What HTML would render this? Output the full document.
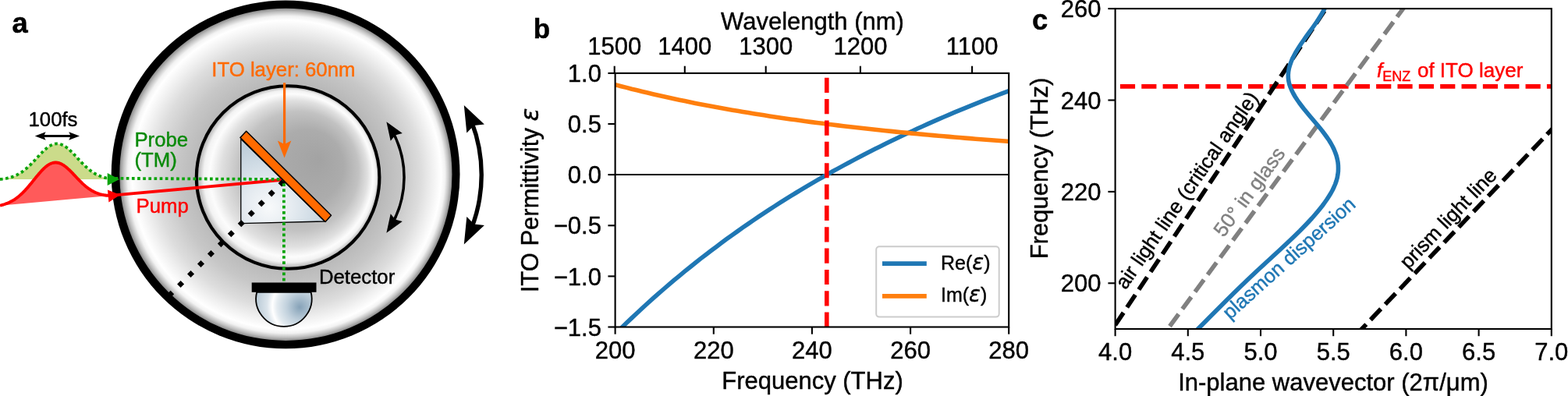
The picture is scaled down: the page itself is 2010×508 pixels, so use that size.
<!DOCTYPE html>
<html><head><meta charset="utf-8"><title>Figure</title>
<style>
html,body{margin:0;padding:0;background:#fff;}
body{width:2010px;height:508px;overflow:hidden;}
svg{display:block;font-family:'Liberation Sans', 'DejaVu Sans', sans-serif;}
</style></head><body>
<svg width="2010" height="508" viewBox="0 0 2010 508">
<rect width="2010" height="508" fill="#fff"/>
<g id="panel-a">
<defs>
<radialGradient id="gout" gradientUnits="userSpaceOnUse" cx="366.4" cy="223.85" r="213.1" fx="380" fy="228">
<stop offset="0" stop-color="#b0b0b0"/><stop offset="0.55" stop-color="#b8b8b8"/><stop offset="0.68" stop-color="#c7c7c7"/><stop offset="0.8" stop-color="#dddddd"/><stop offset="0.88" stop-color="#f2f2f2"/><stop offset="0.93" stop-color="#ffffff"/><stop offset="0.955" stop-color="#f2f2f2"/><stop offset="0.98" stop-color="#c0c0c0"/><stop offset="1" stop-color="#8c8c8c"/>
</radialGradient>
<radialGradient id="gin" gradientUnits="userSpaceOnUse" cx="369.1" cy="227.5" r="117.3" fx="410" fy="204">
<stop offset="0" stop-color="#a3a3a3"/><stop offset="0.4" stop-color="#acacac"/><stop offset="0.65" stop-color="#c2c2c2"/><stop offset="0.8" stop-color="#e0e0e0"/><stop offset="0.89" stop-color="#fcfcfc"/><stop offset="0.94" stop-color="#f2f2f2"/><stop offset="0.98" stop-color="#c0c0c0"/><stop offset="1" stop-color="#909090"/>
</radialGradient>
<radialGradient id="gpr" gradientUnits="userSpaceOnUse" cx="345" cy="266" r="82"><stop offset="0" stop-color="#f8fafb"/><stop offset="0.35" stop-color="#e6ecf1"/><stop offset="0.7" stop-color="#d0dce5"/><stop offset="1" stop-color="#bfceda"/></radialGradient>
<radialGradient id="gdet" gradientUnits="userSpaceOnUse" cx="390" cy="392" r="64" fx="384" fy="394"><stop offset="0" stop-color="#86a2b8"/><stop offset="0.28" stop-color="#c0d0dc"/><stop offset="0.5" stop-color="#e4ebf0"/><stop offset="0.6" stop-color="#ffffff"/><stop offset="0.72" stop-color="#dbe4eb"/><stop offset="1" stop-color="#b4c6d3"/></radialGradient>
</defs>
<circle cx="366.1" cy="223.8" r="223.4" fill="#000"/>
<circle cx="366.4" cy="223.85" r="213.1" fill="url(#gout)"/>
<circle cx="369.1" cy="227.5" r="117.3" fill="url(#gin)" stroke="#000" stroke-width="4.1"/>
<path d="M308.8,178.4 L308.8,286.7 L416.2,284 Z" fill="url(#gpr)" stroke="#000" stroke-width="1.3" stroke-linejoin="round"/>
<path d="M0,230 L0.0,230.0 L1.5,229.8 L3.0,229.7 L4.5,229.5 L6.0,229.2 L7.5,229.0 L9.0,228.7 L10.5,228.3 L12.0,228.0 L13.5,227.6 L15.0,227.1 L16.5,226.6 L18.0,226.0 L19.5,225.4 L21.0,224.7 L22.5,223.9 L24.0,223.1 L25.5,222.2 L27.0,221.3 L28.5,220.3 L30.0,219.2 L31.5,218.0 L33.0,216.8 L34.5,215.5 L36.0,214.2 L37.5,212.8 L39.0,211.3 L40.5,209.8 L42.0,208.3 L43.5,206.7 L45.0,205.1 L46.5,203.4 L48.0,201.8 L49.5,200.2 L51.0,198.6 L52.5,197.0 L54.0,195.5 L55.5,194.0 L57.0,192.6 L58.5,191.3 L60.0,190.0 L61.5,188.9 L63.0,187.8 L64.5,186.9 L66.0,186.1 L67.5,185.5 L69.0,185.0 L70.5,184.6 L72.0,184.4 L73.5,184.4 L75.0,184.5 L76.5,184.8 L78.0,185.2 L79.5,185.7 L81.0,186.4 L82.5,187.3 L84.0,188.2 L85.5,189.3 L87.0,190.5 L88.5,191.8 L90.0,193.2 L91.5,194.6 L93.0,196.1 L94.5,197.7 L96.0,199.2 L97.5,200.8 L99.0,202.5 L100.5,204.1 L102.0,205.7 L103.5,207.3 L105.0,208.9 L106.5,210.4 L108.0,211.9 L109.5,213.3 L111.0,214.7 L112.5,216.1 L114.0,217.3 L115.5,218.5 L117.0,219.6 L118.5,220.7 L120.0,221.7 L121.5,222.6 L123.0,223.5 L124.5,224.2 L126.0,225.0 L127.5,225.6 L129.0,226.2 L130.5,226.8 L132.0,227.3 L133.5,227.7 L135.0,228.1 L136.5,228.5 L138.0,228.8 L139.5,229.1 L141.0,229.3 L141,230 Z" fill="#cbdb8a"/>
<path d="M0,263.7 L0.0,263.7 L1.5,263.3 L3.0,262.9 L4.5,262.5 L6.0,262.0 L7.5,261.4 L9.0,260.9 L10.5,260.2 L12.0,259.6 L13.5,258.8 L15.0,258.0 L16.5,257.2 L18.0,256.3 L19.5,255.3 L21.0,254.2 L22.5,253.1 L24.0,251.9 L25.5,250.6 L27.0,249.3 L28.5,247.9 L30.0,246.4 L31.5,244.9 L33.0,243.2 L34.5,241.6 L36.0,239.9 L37.5,238.1 L39.0,236.3 L40.5,234.5 L42.0,232.6 L43.5,230.8 L45.0,228.9 L46.5,227.0 L48.0,225.2 L49.5,223.4 L51.0,221.7 L52.5,220.0 L54.0,218.4 L55.5,216.9 L57.0,215.4 L58.5,214.1 L60.0,212.9 L61.5,211.8 L63.0,210.9 L64.5,210.1 L66.0,209.5 L67.5,209.0 L69.0,208.7 L70.5,208.5 L72.0,208.5 L73.5,208.7 L75.0,209.0 L76.5,209.4 L78.0,210.1 L79.5,210.8 L81.0,211.7 L82.5,212.7 L84.0,213.8 L85.5,215.0 L87.0,216.4 L88.5,217.7 L90.0,219.2 L91.5,220.7 L93.0,222.2 L94.5,223.8 L96.0,225.4 L97.5,227.0 L99.0,228.6 L100.5,230.1 L102.0,231.7 L103.5,233.2 L105.0,234.7 L106.5,236.1 L108.0,237.4 L109.5,238.7 L111.0,239.9 L112.5,241.1 L114.0,242.2 L115.5,243.2 L117.0,244.2 L118.5,245.0 L120.0,245.8 L121.5,246.6 L123.0,247.2 L124.5,247.8 L126.0,248.4 L127.5,248.9 L129.0,249.3 L130.5,249.7 L132.0,250.0 L133.5,250.3 L135.0,250.5 L136.5,250.7 L138.0,250.8 L139.5,250.9 L141.0,250.9 L141,250.9 Z" fill="#ff5a5a"/>
<path d="M0.0,263.7 L1.5,263.3 L3.0,262.9 L4.5,262.5 L6.0,262.0 L7.5,261.4 L9.0,260.9 L10.5,260.2 L12.0,259.6 L13.5,258.8 L15.0,258.0 L16.5,257.2 L18.0,256.3 L19.5,255.3 L21.0,254.2 L22.5,253.1 L24.0,251.9 L25.5,250.6 L27.0,249.3 L28.5,247.9 L30.0,246.4 L31.5,244.9 L33.0,243.2 L34.5,241.6 L36.0,239.9 L37.5,238.1 L39.0,236.3 L40.5,234.5 L42.0,232.6 L43.5,230.8 L45.0,228.9 L46.5,227.0 L48.0,225.2 L49.5,223.4 L51.0,221.7 L52.5,220.0 L54.0,218.4 L55.5,216.9 L57.0,215.4 L58.5,214.1 L60.0,212.9 L61.5,211.8 L63.0,210.9 L64.5,210.1 L66.0,209.5 L67.5,209.0 L69.0,208.7 L70.5,208.5 L72.0,208.5 L73.5,208.7 L75.0,209.0 L76.5,209.4 L78.0,210.1 L79.5,210.8 L81.0,211.7 L82.5,212.7 L84.0,213.8 L85.5,215.0 L87.0,216.4 L88.5,217.7 L90.0,219.2 L91.5,220.7 L93.0,222.2 L94.5,223.8 L96.0,225.4 L97.5,227.0 L99.0,228.6 L100.5,230.1 L102.0,231.7 L103.5,233.2 L105.0,234.7 L106.5,236.1 L108.0,237.4 L109.5,238.7 L111.0,239.9 L112.5,241.1 L114.0,242.2 L115.5,243.2 L117.0,244.2 L118.5,245.0 L120.0,245.8 L121.5,246.6 L123.0,247.2 L124.5,247.8 L126.0,248.4 L127.5,248.9 L129.0,249.3 L130.5,249.7 L132.0,250.0 L133.5,250.3 L135.0,250.5 L136.5,250.7 L138.0,250.8 L139.5,250.9 L141.0,250.9 L152,249.9 L361.5,230.8" fill="none" stroke="#f00" stroke-width="3.9" stroke-linejoin="round"/>
<path d="M154.0,250.0 L139.4,259.4 L138.7,251.4 L137.9,243.4 Z" fill="#f00"/>
<line x1="363.36" y1="232.64" x2="213" y2="383" stroke="#000" stroke-width="6.4" stroke-dasharray="6.4 11.914"/>
<path d="M0.0,230.0 L1.5,229.8 L3.0,229.7 L4.5,229.5 L6.0,229.2 L7.5,229.0 L9.0,228.7 L10.5,228.3 L12.0,228.0 L13.5,227.6 L15.0,227.1 L16.5,226.6 L18.0,226.0 L19.5,225.4 L21.0,224.7 L22.5,223.9 L24.0,223.1 L25.5,222.2 L27.0,221.3 L28.5,220.3 L30.0,219.2 L31.5,218.0 L33.0,216.8 L34.5,215.5 L36.0,214.2 L37.5,212.8 L39.0,211.3 L40.5,209.8 L42.0,208.3 L43.5,206.7 L45.0,205.1 L46.5,203.4 L48.0,201.8 L49.5,200.2 L51.0,198.6 L52.5,197.0 L54.0,195.5 L55.5,194.0 L57.0,192.6 L58.5,191.3 L60.0,190.0 L61.5,188.9 L63.0,187.8 L64.5,186.9 L66.0,186.1 L67.5,185.5 L69.0,185.0 L70.5,184.6 L72.0,184.4 L73.5,184.4 L75.0,184.5 L76.5,184.8 L78.0,185.2 L79.5,185.7 L81.0,186.4 L82.5,187.3 L84.0,188.2 L85.5,189.3 L87.0,190.5 L88.5,191.8 L90.0,193.2 L91.5,194.6 L93.0,196.1 L94.5,197.7 L96.0,199.2 L97.5,200.8 L99.0,202.5 L100.5,204.1 L102.0,205.7 L103.5,207.3 L105.0,208.9 L106.5,210.4 L108.0,211.9 L109.5,213.3 L111.0,214.7 L112.5,216.1 L114.0,217.3 L115.5,218.5 L117.0,219.6 L118.5,220.7 L120.0,221.7 L121.5,222.6 L123.0,223.5 L124.5,224.2 L126.0,225.0 L127.5,225.6 L129.0,226.2 L130.5,226.8 L132.0,227.3 L133.5,227.7 L135.0,228.1 L136.5,228.5 L138.0,228.8 L363.9,230 L363.9,362.5" fill="none" stroke="#0ca40c" stroke-width="3.8" stroke-dasharray="3.7 3.45" stroke-linejoin="round"/>
<path d="M153.0,230.0 L137.7,238.0 L137.7,230.0 L137.7,222.0 Z" fill="#0ca40c"/>
<path d="M308,176.5 L315.7,168.2 L424.5,276.2 L417.1,284.5 Z" fill="#ff6a00" stroke="#000" stroke-width="1.5" stroke-linejoin="round"/>
<line x1="364.6" y1="106.2" x2="364.6" y2="190" stroke="#ff6a00" stroke-width="3.2"/>
<path d="M364.6,202.4 L355.9,180.6 L364.6,185.1 L373.3,180.6 Z" fill="#ff6a00"/>
<path d="M329.2,374.8 A35.7,35.7 0 1 0 398.6,374.8 Z" fill="url(#gdet)" stroke="#000" stroke-width="1.8"/>
<rect x="322.7" y="362.5" width="82.8" height="12.3" fill="#000"/>
<path d="M504.0,170.2 A123.8,123.8 0 0 1 504.0,284.8" fill="none" stroke="#000" stroke-width="3.5"/><path d="M495.4,156.2 L515.8,171.0 L506.6,173.4 L500.7,180.8 Z" fill="#000"/><path d="M495.4,298.8 L500.7,274.2 L506.6,281.6 L515.8,284.0 Z" fill="#000"/>
<path d="M604.6,156.3 A189.0,189.0 0 0 1 604.6,292.2" fill="none" stroke="#000" stroke-width="5.4"/><path d="M594.8,135.0 L620.9,159.5 L607.6,161.0 L598.3,170.6 Z" fill="#000"/><path d="M594.8,313.5 L598.3,277.9 L607.6,287.5 L620.9,289.0 Z" fill="#000"/>
<line x1="52" y1="174.5" x2="95" y2="174.5" stroke="#000" stroke-width="2.9"/>
<path d="M44.8,174.5 L58.6,169.3 L56.1,174.5 L58.6,179.7 Z" fill="#000"/>
<path d="M102.0,174.5 L88.2,179.7 L90.7,174.5 L88.2,169.3 Z" fill="#000"/>
<text x="36.5" y="161.5" font-size="25.75" stroke="#000" stroke-width="0.42" stroke-linejoin="round">100fs</text>
<text x="172.4" y="188.2" font-size="25.75" fill="#0a8a0a" stroke="#0a8a0a" stroke-width="0.42" stroke-linejoin="round">Probe</text>
<text x="172.4" y="214.3" font-size="25.75" fill="#0a8a0a" stroke="#0a8a0a" stroke-width="0.42" stroke-linejoin="round">(TM)</text>
<text x="174.6" y="273.4" font-size="25.75" fill="#f00" stroke="#f00" stroke-width="0.42" stroke-linejoin="round">Pump</text>
<text x="271.3" y="97.8" font-size="25.75" fill="#ff6a00" stroke="#ff6a00" stroke-width="0.42" stroke-linejoin="round">ITO layer: 60nm</text>
<text x="408.9" y="364.4" font-size="25.75" stroke="#000" stroke-width="0.42" stroke-linejoin="round">Detector</text>
<text x="15.6" y="42.4" font-size="36.3" font-weight="bold" stroke="#000" stroke-width="0.5" stroke-linejoin="round">a</text>
</g>
<g id="panel-b">
<clipPath id="clipb"><rect x="788.6" y="93.9" width="504.6" height="325.6"/></clipPath>
<g clip-path="url(#clipb)" fill="none">
<line x1="788.6" x2="1293.2" y1="224.1" y2="224.1" stroke="#000" stroke-width="2"/>
<polyline points="776.0,441.3 782.8,434.4 789.5,427.6 796.3,420.9 803.1,414.3 809.9,407.9 816.7,401.5 823.4,395.2 830.2,389.0 837.0,382.9 843.8,376.9 850.6,371.0 857.4,365.2 864.1,359.4 870.9,353.8 877.7,348.2 884.5,342.7 891.3,337.3 898.0,331.9 904.8,326.7 911.6,321.5 918.4,316.4 925.2,311.3 931.9,306.3 938.7,301.4 945.5,296.6 952.3,291.8 959.1,287.1 965.8,282.5 972.6,277.9 979.4,273.4 986.2,268.9 993.0,264.5 999.7,260.2 1006.5,255.9 1013.3,251.7 1020.1,247.5 1026.9,243.4 1033.6,239.3 1040.4,235.3 1047.2,231.4 1054.0,227.5 1060.8,223.6 1067.5,219.8 1074.3,216.1 1081.1,212.4 1087.9,208.7 1094.7,205.1 1101.5,201.5 1108.2,198.0 1115.0,194.5 1121.8,191.1 1128.6,187.7 1135.4,184.3 1142.1,181.0 1148.9,177.7 1155.7,174.5 1162.5,171.3 1169.3,168.2 1176.0,165.0 1182.8,162.0 1189.6,158.9 1196.4,155.9 1203.2,152.9 1209.9,150.0 1216.7,147.1 1223.5,144.2 1230.3,141.4 1237.1,138.6 1243.8,135.8 1250.6,133.1 1257.4,130.4 1264.2,127.7 1271.0,125.1 1277.7,122.5 1284.5,119.9 1291.3,117.3 1298.1,114.8 1304.9,112.3 1311.6,109.8 1318.4,107.4" stroke="#1f77b4" stroke-width="5.6" stroke-linejoin="round"/>
<polyline points="776.0,105.2 782.8,107.0 789.5,108.9 796.3,110.7 803.1,112.4 809.9,114.2 816.7,115.8 823.4,117.5 830.2,119.1 837.0,120.7 843.8,122.3 850.6,123.8 857.4,125.3 864.1,126.8 870.9,128.2 877.7,129.6 884.5,131.0 891.3,132.4 898.0,133.7 904.8,135.0 911.6,136.3 918.4,137.5 925.2,138.8 931.9,140.0 938.7,141.2 945.5,142.3 952.3,143.5 959.1,144.6 965.8,145.7 972.6,146.8 979.4,147.8 986.2,148.9 993.0,149.9 999.7,150.9 1006.5,151.9 1013.3,152.9 1020.1,153.8 1026.9,154.8 1033.6,155.7 1040.4,156.6 1047.2,157.5 1054.0,158.3 1060.8,159.2 1067.5,160.0 1074.3,160.9 1081.1,161.7 1087.9,162.5 1094.7,163.3 1101.5,164.0 1108.2,164.8 1115.0,165.5 1121.8,166.3 1128.6,167.0 1135.4,167.7 1142.1,168.4 1148.9,169.1 1155.7,169.8 1162.5,170.4 1169.3,171.1 1176.0,171.7 1182.8,172.4 1189.6,173.0 1196.4,173.6 1203.2,174.2 1209.9,174.8 1216.7,175.4 1223.5,176.0 1230.3,176.5 1237.1,177.1 1243.8,177.6 1250.6,178.2 1257.4,178.7 1264.2,179.2 1271.0,179.8 1277.7,180.3 1284.5,180.8 1291.3,181.3 1298.1,181.7 1304.9,182.2 1311.6,182.7 1318.4,183.2" stroke="#ff7f0e" stroke-width="5.6" stroke-linejoin="round"/>
<line x1="1059.8" x2="1059.8" y1="419.8" y2="93.9" stroke="#f00" stroke-width="5.6" stroke-dasharray="19.2 8.15"/>
</g>
<rect x="1123.2" y="316.3" width="157.5" height="90.3" rx="4" ry="4" fill="#fff" fill-opacity="0.8" stroke="#ccc" stroke-width="2"/>
<line x1="1131" x2="1187.8" y1="338.1" y2="338.1" stroke="#1f77b4" stroke-width="5.6"/>
<line x1="1131" x2="1187.8" y1="379.9" y2="379.9" stroke="#ff7f0e" stroke-width="5.6"/>
<text x="1206" y="345.6" font-size="25" stroke="#000" stroke-width="0.42" stroke-linejoin="round">Re(<tspan font-style="italic" font-family="DejaVu Sans, sans-serif" font-size="27.5">ε</tspan>)</text>
<text x="1206" y="387.4" font-size="25" stroke="#000" stroke-width="0.42" stroke-linejoin="round">Im(<tspan font-style="italic" font-family="DejaVu Sans, sans-serif" font-size="27.5">ε</tspan>)</text>
<rect x="788.6" y="93.9" width="504.6" height="325.6" fill="none" stroke="#000" stroke-width="2.1"/>
<line x1="788.6" x2="788.6" y1="419.5" y2="428.7" stroke="#000" stroke-width="2.1"/>
<text x="788.6" y="460.2" font-size="31" text-anchor="middle" stroke="#000" stroke-width="0.42" stroke-linejoin="round">200</text>
<line x1="914.8" x2="914.8" y1="419.5" y2="428.7" stroke="#000" stroke-width="2.1"/>
<text x="914.8" y="460.2" font-size="31" text-anchor="middle" stroke="#000" stroke-width="0.42" stroke-linejoin="round">220</text>
<line x1="1040.9" x2="1040.9" y1="419.5" y2="428.7" stroke="#000" stroke-width="2.1"/>
<text x="1040.9" y="460.2" font-size="31" text-anchor="middle" stroke="#000" stroke-width="0.42" stroke-linejoin="round">240</text>
<line x1="1167.1" x2="1167.1" y1="419.5" y2="428.7" stroke="#000" stroke-width="2.1"/>
<text x="1167.1" y="460.2" font-size="31" text-anchor="middle" stroke="#000" stroke-width="0.42" stroke-linejoin="round">260</text>
<line x1="1293.2" x2="1293.2" y1="419.5" y2="428.7" stroke="#000" stroke-width="2.1"/>
<text x="1293.2" y="460.2" font-size="31" text-anchor="middle" stroke="#000" stroke-width="0.42" stroke-linejoin="round">280</text>
<line x1="787.7" x2="787.7" y1="93.9" y2="84.7" stroke="#000" stroke-width="2.1"/>
<text x="787.7" y="69.6" font-size="31" text-anchor="middle" stroke="#000" stroke-width="0.42" stroke-linejoin="round">1500</text>
<line x1="877.8" x2="877.8" y1="93.9" y2="84.7" stroke="#000" stroke-width="2.1"/>
<text x="877.8" y="69.6" font-size="31" text-anchor="middle" stroke="#000" stroke-width="0.42" stroke-linejoin="round">1400</text>
<line x1="981.7" x2="981.7" y1="93.9" y2="84.7" stroke="#000" stroke-width="2.1"/>
<text x="981.7" y="69.6" font-size="31" text-anchor="middle" stroke="#000" stroke-width="0.42" stroke-linejoin="round">1300</text>
<line x1="1102.9" x2="1102.9" y1="93.9" y2="84.7" stroke="#000" stroke-width="2.1"/>
<text x="1102.9" y="69.6" font-size="31" text-anchor="middle" stroke="#000" stroke-width="0.42" stroke-linejoin="round">1200</text>
<line x1="1246.1" x2="1246.1" y1="93.9" y2="84.7" stroke="#000" stroke-width="2.1"/>
<text x="1246.1" y="69.6" font-size="31" text-anchor="middle" stroke="#000" stroke-width="0.42" stroke-linejoin="round">1100</text>
<line x1="788.6" x2="779.4" y1="93.9" y2="93.9" stroke="#000" stroke-width="2.1"/>
<text x="770.9" y="105.0" font-size="31" text-anchor="end" stroke="#000" stroke-width="0.42" stroke-linejoin="round">1.0</text>
<line x1="788.6" x2="779.4" y1="159.0" y2="159.0" stroke="#000" stroke-width="2.1"/>
<text x="770.9" y="170.1" font-size="31" text-anchor="end" stroke="#000" stroke-width="0.42" stroke-linejoin="round">0.5</text>
<line x1="788.6" x2="779.4" y1="224.1" y2="224.1" stroke="#000" stroke-width="2.1"/>
<text x="770.9" y="235.2" font-size="31" text-anchor="end" stroke="#000" stroke-width="0.42" stroke-linejoin="round">0.0</text>
<line x1="788.6" x2="779.4" y1="289.3" y2="289.3" stroke="#000" stroke-width="2.1"/>
<text x="770.9" y="300.4" font-size="31" text-anchor="end" stroke="#000" stroke-width="0.42" stroke-linejoin="round">−0.5</text>
<line x1="788.6" x2="779.4" y1="354.4" y2="354.4" stroke="#000" stroke-width="2.1"/>
<text x="770.9" y="365.5" font-size="31" text-anchor="end" stroke="#000" stroke-width="0.42" stroke-linejoin="round">−1.0</text>
<line x1="788.6" x2="779.4" y1="419.5" y2="419.5" stroke="#000" stroke-width="2.1"/>
<text x="770.9" y="430.6" font-size="31" text-anchor="end" stroke="#000" stroke-width="0.42" stroke-linejoin="round">−1.5</text>
<text x="1041.5" y="498.8" font-size="31" text-anchor="middle" stroke="#000" stroke-width="0.42" stroke-linejoin="round">Frequency (THz)</text>
<text x="1041.5" y="38" font-size="31" text-anchor="middle" stroke="#000" stroke-width="0.42" stroke-linejoin="round">Wavelength (nm)</text>
<text transform="translate(689.5,257) rotate(-90)" font-size="31" text-anchor="middle" stroke="#000" stroke-width="0.42" stroke-linejoin="round">ITO Permittivity <tspan font-style="italic" font-family="DejaVu Sans, sans-serif">ε</tspan></text>
<text x="683.8" y="48.8" font-size="35" font-weight="bold" stroke="#000" stroke-width="0.5" stroke-linejoin="round">b</text>
</g>
<g id="panel-c">
<clipPath id="clipc"><rect x="1429.6" y="11.1" width="559.2" height="410.9"/></clipPath>
<g clip-path="url(#clipc)" fill="none">
<line x1="1435.8999999999999" x2="1988.8" y1="110.9" y2="110.9" stroke="#f00" stroke-width="5.6" stroke-dasharray="19.2 8.15"/>
<line x1="1429.55" y1="417.07" x2="1817.38" y2="-165.67" stroke="#000" stroke-width="5.6" stroke-dasharray="19.2 8.15"/>
<line x1="1499.50" y1="418.50" x2="1913.80" y2="-145.73" stroke="#808080" stroke-width="5.6" stroke-dasharray="19.2 8.15"/>
<line x1="1738.05" y1="430.02" x2="2220.54" y2="-77.14" stroke="#000" stroke-width="5.6" stroke-dasharray="19.2 8.15"/>
<path d="M1702.5,0.0 L1701.1,4.0 L1699.5,8.0 L1697.5,12.0 L1695.4,16.0 L1693.0,20.0 L1690.5,24.0 L1687.9,28.0 L1685.1,32.0 L1682.3,36.0 L1679.4,40.0 L1676.5,44.0 L1673.6,48.0 L1670.8,52.0 L1668.0,56.0 L1665.4,60.0 L1662.9,64.0 L1660.5,68.0 L1658.4,72.0 L1656.4,76.0 L1654.8,80.0 L1653.4,84.0 L1652.3,88.0 L1651.6,92.0 L1651.3,96.0 L1651.4,100.0 L1651.9,104.0 L1652.8,108.0 L1654.2,112.0 L1655.9,116.0 L1657.9,120.0 L1660.2,124.0 L1662.8,128.0 L1665.6,132.0 L1668.6,136.0 L1671.7,140.0 L1675.0,144.0 L1678.3,148.0 L1681.7,152.0 L1685.1,156.0 L1688.5,160.0 L1691.8,164.0 L1695.0,168.0 L1698.0,172.0 L1700.9,176.0 L1703.7,180.0 L1706.1,184.0 L1708.3,188.0 L1710.2,192.0 L1711.8,196.0 L1713.2,200.0 L1714.2,204.0 L1715.0,208.0 L1715.4,212.0 L1715.5,216.0 L1715.4,220.0 L1714.9,224.0 L1714.2,228.0 L1713.1,232.0 L1711.7,236.0 L1710.0,240.0 L1708.1,244.0 L1705.9,248.0 L1703.4,252.0 L1700.8,256.0 L1698.0,260.0 L1695.1,264.0 L1691.9,268.0 L1688.6,272.0 L1685.2,276.0 L1681.7,280.0 L1678.0,284.0 L1674.2,288.0 L1670.3,292.0 L1666.4,296.0 L1662.3,300.0 L1658.2,304.0 L1654.0,308.0 L1649.8,312.0 L1645.5,316.0 L1641.2,320.0 L1636.9,324.0 L1632.5,328.0 L1628.2,332.0 L1623.8,336.0 L1619.5,340.0 L1615.1,344.0 L1610.8,348.0 L1606.6,352.0 L1602.3,356.0 L1598.1,360.0 L1594.0,364.0 L1589.8,368.0 L1585.7,372.0 L1581.6,376.0 L1577.6,380.0 L1573.5,384.0 L1569.5,388.0 L1565.5,392.0 L1561.5,396.0 L1557.5,400.0 L1553.5,404.0 L1549.5,408.0 L1545.6,412.0 L1541.6,416.0 L1537.6,420.0 L1533.6,424.0 L1529.6,428.0" stroke="#1f77b4" stroke-width="5.6" stroke-linejoin="round"/>
</g>
<rect x="1429.6" y="11.1" width="559.2" height="410.9" fill="none" stroke="#000" stroke-width="2.1"/>
<line x1="1429.6" x2="1429.6" y1="422.0" y2="431.2" stroke="#000" stroke-width="2.1"/>
<text x="1429.6" y="462.2" font-size="31" text-anchor="middle" stroke="#000" stroke-width="0.42" stroke-linejoin="round">4.0</text>
<line x1="1522.8" x2="1522.8" y1="422.0" y2="431.2" stroke="#000" stroke-width="2.1"/>
<text x="1522.8" y="462.2" font-size="31" text-anchor="middle" stroke="#000" stroke-width="0.42" stroke-linejoin="round">4.5</text>
<line x1="1616.0" x2="1616.0" y1="422.0" y2="431.2" stroke="#000" stroke-width="2.1"/>
<text x="1616.0" y="462.2" font-size="31" text-anchor="middle" stroke="#000" stroke-width="0.42" stroke-linejoin="round">5.0</text>
<line x1="1709.2" x2="1709.2" y1="422.0" y2="431.2" stroke="#000" stroke-width="2.1"/>
<text x="1709.2" y="462.2" font-size="31" text-anchor="middle" stroke="#000" stroke-width="0.42" stroke-linejoin="round">5.5</text>
<line x1="1802.4" x2="1802.4" y1="422.0" y2="431.2" stroke="#000" stroke-width="2.1"/>
<text x="1802.4" y="462.2" font-size="31" text-anchor="middle" stroke="#000" stroke-width="0.42" stroke-linejoin="round">6.0</text>
<line x1="1895.6" x2="1895.6" y1="422.0" y2="431.2" stroke="#000" stroke-width="2.1"/>
<text x="1895.6" y="462.2" font-size="31" text-anchor="middle" stroke="#000" stroke-width="0.42" stroke-linejoin="round">6.5</text>
<line x1="1988.8" x2="1988.8" y1="422.0" y2="431.2" stroke="#000" stroke-width="2.1"/>
<text x="1988.8" y="462.2" font-size="31" text-anchor="middle" stroke="#000" stroke-width="0.42" stroke-linejoin="round">7.0</text>
<line x1="1429.6" x2="1420.3999999999999" y1="363.3" y2="363.3" stroke="#000" stroke-width="2.1"/>
<text x="1411.4" y="374.4" font-size="31" text-anchor="end" stroke="#000" stroke-width="0.42" stroke-linejoin="round">200</text>
<line x1="1429.6" x2="1420.3999999999999" y1="245.9" y2="245.9" stroke="#000" stroke-width="2.1"/>
<text x="1411.4" y="257.0" font-size="31" text-anchor="end" stroke="#000" stroke-width="0.42" stroke-linejoin="round">220</text>
<line x1="1429.6" x2="1420.3999999999999" y1="128.5" y2="128.5" stroke="#000" stroke-width="2.1"/>
<text x="1411.4" y="139.6" font-size="31" text-anchor="end" stroke="#000" stroke-width="0.42" stroke-linejoin="round">240</text>
<line x1="1429.6" x2="1420.3999999999999" y1="11.1" y2="11.1" stroke="#000" stroke-width="2.1"/>
<text x="1411.4" y="22.2" font-size="31" text-anchor="end" stroke="#000" stroke-width="0.42" stroke-linejoin="round">260</text>
<text x="1709" y="501" font-size="31" text-anchor="middle" stroke="#000" stroke-width="0.42" stroke-linejoin="round">In-plane wavevector (2π/μm)</text>
<text transform="translate(1343,216) rotate(-90)" font-size="31" text-anchor="middle" stroke="#000" stroke-width="0.42" stroke-linejoin="round">Frequency (THz)</text>
<text x="1323" y="37.9" font-size="36.3" font-weight="bold" stroke="#000" stroke-width="0.5" stroke-linejoin="round">c</text>
<text transform="translate(1528.5,249) rotate(-55.3)" font-size="26" text-anchor="middle" stroke="#000" stroke-width="0.42" stroke-linejoin="round">air light line (critical angle)</text>
<text transform="translate(1608.5,251.3) rotate(-53.6)" font-size="26" text-anchor="middle" fill="#808080" stroke="#808080" stroke-width="0.42" stroke-linejoin="round">50° in glass</text>
<text transform="translate(1658,337.5) rotate(-42)" font-size="25.4" text-anchor="middle" fill="#1f77b4" stroke="#1f77b4" stroke-width="0.42" stroke-linejoin="round">plasmon dispersion</text>
<text transform="translate(1862.7,286.2) rotate(-46.2)" font-size="26" text-anchor="middle" stroke="#000" stroke-width="0.42" stroke-linejoin="round">prism light line</text>
<text x="1765" y="99" font-size="26" fill="#f00" stroke="#f00" stroke-width="0.42" stroke-linejoin="round"><tspan font-style="italic">f</tspan><tspan font-size="18" dy="5">ENZ</tspan><tspan dy="-5" dx="1.5"> of ITO layer</tspan></text>
</g>
</svg>
</body></html>
